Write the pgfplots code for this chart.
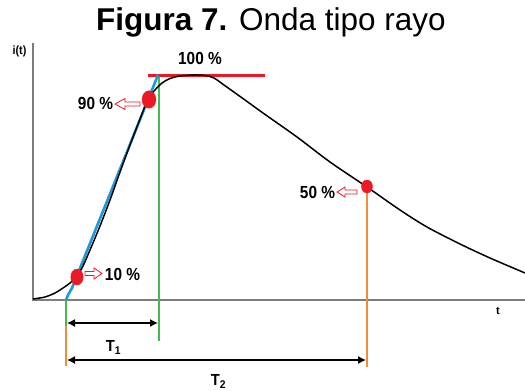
\documentclass[border=0pt]{standalone}
\usepackage{pgfplots}
\pgfplotsset{compat=1.18}
\usetikzlibrary{arrows.meta}
\usepackage{fontspec}
\setmainfont{Liberation Sans}
\definecolor{myred}{RGB}{235,25,35}
\definecolor{myblue}{RGB}{30,152,215}
\definecolor{mygreen}{RGB}{70,185,80}
\definecolor{myorange}{RGB}{242,140,55}
\definecolor{axgray}{RGB}{125,125,125}
\newcommand{\lbl}[1]{\scalebox{0.88}[1]{\fontsize{17.5}{17.5}\selectfont\bfseries #1}}
\begin{document}
\begin{tikzpicture}
\begin{axis}[width=525pt,height=391pt,scale only axis,
  xmin=0,xmax=525,ymin=0,ymax=391,y dir=reverse,hide axis,clip=false]
% axes
\addplot[axgray,line width=2pt] coordinates {(33,43) (33,300) (525,300)};
% vertical guide lines
\addplot[mygreen,line width=2pt] coordinates {(159,75) (159,341)};
\addplot[mygreen,line width=2pt] coordinates {(66,300) (66,326)};
\addplot[myorange,line width=2.4pt] coordinates {(66,326) (66,366)};
\addplot[myorange,line width=2.4pt] coordinates {(367,187) (367,367)};
% 100% line
\addplot[myred,line width=3pt] coordinates {(148,75) (265,75)};
% tangent line
\addplot[myblue,line width=2.6pt] coordinates {(66,300) (68,295) (72,288) (158,75)};
% waveform
\addplot[black,line width=1.5pt,smooth,tension=0.5] coordinates {
(33,299) (45,297) (55,293) (63,288) (70,283) (77,276) (83,266) (90,250)
(100,226) (110,200) (120,172) (130,145) (140,119) (148,99) (155,90)
(162,83) (170,78.5) (180,76) (193,75) (205,75.5) (214,78) (224,85)
(245,100) (263,113) (297,137) (330,162) (367,187) (400,210) (427,227)
(460,244) (490,258) (525,273)};
% points
\addplot[only marks,mark=*,myred,mark size=8pt,mark options={xscale=0.78}] coordinates {(77,277)};
\addplot[only marks,mark=*,myred,mark size=8.7pt,mark options={xscale=0.8}] coordinates {(149,99.5)};
\addplot[only marks,mark=*,myred,mark size=6.5pt,mark options={xscale=0.85}] coordinates {(367,186.5)};
% T arrows
\addplot[black,line width=1.3pt,{Latex[length=8pt,width=8pt]}-{Latex[length=8pt,width=8pt]}] coordinates {(67,323) (158,323)};
\addplot[black,line width=1.3pt,{Latex[length=8pt,width=8pt]}-{Latex[length=8pt,width=8pt]}] coordinates {(67,360) (366,360)};
% hollow arrows
\draw[myred,line width=0.8pt,fill=white] (85,271.5) -- (94,271.5) -- (94,268) -- (102,273.5) -- (94,279) -- (94,275.5) -- (85,275.5) -- cycle;
\draw[myred,line width=0.8pt,fill=white] (140,102) -- (125,102) -- (125,98.5) -- (115,104) -- (125,109.5) -- (125,106) -- (140,106) -- cycle;
\draw[myred,line width=0.8pt,fill=white] (357,190) -- (345,190) -- (345,187) -- (337,192) -- (345,197) -- (345,194) -- (357,194) -- cycle;
% labels
\node at (122.5,274.5) {\lbl{10 \%}};
\node at (95.5,103) {\lbl{90 \%}};
\node at (317.5,192.5) {\lbl{50 \%}};
\node at (200,58.5) {\lbl{100 \%}};
\node at (19.5,51) {\scalebox{0.9}[1]{\fontsize{12}{12}\selectfont\bfseries i(t)}};
\node at (498,311) {\fontsize{11}{11}\selectfont\bfseries t};
\node at (113.5,347.5) {\scalebox{0.92}[1]{\fontsize{16}{16}\selectfont\bfseries T$_{\mathbf 1}$}};
\node at (218.5,381.5) {\scalebox{0.92}[1]{\fontsize{16}{16}\selectfont\bfseries T$_{\mathbf 2}$}};
\node[anchor=base] at (271,30) {\fontsize{31.5}{31.5}\selectfont\textbf{Figura 7.} Onda tipo rayo};
\end{axis}
\pgfresetboundingbox
\path (0,0) rectangle (525pt,391pt);
\end{tikzpicture}
\end{document}
